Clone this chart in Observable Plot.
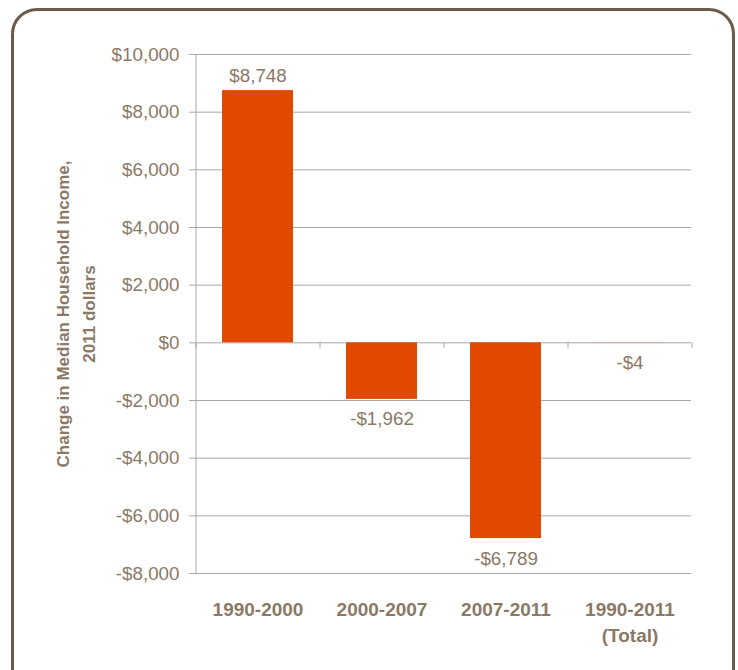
<!DOCTYPE html>
<html>
<head>
<meta charset="utf-8">
<script src="https://cdn.jsdelivr.net/npm/d3@7"></script>
<script src="https://cdn.jsdelivr.net/npm/@observablehq/plot@0.6"></script>
<style>
  html, body { margin: 0; padding: 0; background: #fff; }
  #wrap { position: relative; width: 738px; height: 670px; overflow: hidden; }
  #border { position: absolute; left: 11px; top: 8px; width: 718px; height: 700px;
            border: 3.5px solid #6b5b4b; border-radius: 26px; box-sizing: content-box; }
  #chart { position: absolute; left: 0; top: 0; }
</style>
</head>
<body>
<div id="wrap"><div id="border"></div><div id="chart"></div></div>
<script>
const periods = ["1990-2000", "2000-2007", "2007-2011", "1990-2011\n(Total)"];
const changes = [8748, -1962, -6789, -4];
const yTicks = [-8000, -6000, -4000, -2000, 0, 2000, 4000, 6000, 8000, 10000];
const yTitle = "Change in Median Household Income,\n2011 dollars";

const data = periods.map((p, i) => ({period: p, value: changes[i]}));
const money = v => (v < 0 ? "-" : "") + "$" + d3.format(",")(Math.abs(v));

const textColor = "#8b7966";
const gridColor = "#a8a8a8";
const barColor = "#e24800";
const font = "'Liberation Sans', Arial, sans-serif";

const chart = Plot.plot({
  width: 738,
  height: 670,
  marginLeft: 195,
  marginRight: 47,
  marginTop: 54,
  marginBottom: 97,
  style: {fontFamily: font, fontSize: "18.8px", background: "transparent"},
  x: {domain: periods, paddingInner: 0.43, paddingOuter: 0.215, label: null},
  y: {domain: [-8000, 10000], label: null},
  marks: [
    Plot.ruleY(yTicks, {stroke: gridColor, strokeWidth: 1}),
    Plot.barY(data, {x: "period", y: "value", fill: barColor}),
    // y axis line and category boundary ticks
    Plot.ruleX([periods[0]], {dx: -62, y1: -8000, y2: 10000, stroke: gridColor}),
    Plot.ruleX(periods, {x: d => d, dx: -62, y1: 0, y2: -190, stroke: gridColor}),
    Plot.ruleX([periods[periods.length - 1]], {dx: 62, y1: 0, y2: -190, stroke: gridColor}),
    Plot.axisY({ticks: yTicks, tickSize: 6, tickFormat: () => "", stroke: gridColor}),
    Plot.axisY({ticks: yTicks, tickSize: 0, tickPadding: 16, tickFormat: money,
                fill: textColor, fontSize: 18.8}),
    Plot.axisX({tickSize: 0, tickPadding: 24, fill: textColor, fontWeight: "bold",
                fontSize: 19, lineHeight: 1.37}),
    Plot.text(data.filter(d => d.value > 0), {x: "period", y: "value", text: d => money(d.value),
              dy: -15, fill: textColor, fontSize: 18.8}),
    Plot.text(data.filter(d => d.value <= 0), {x: "period", y: "value", text: d => money(d.value),
              dy: 20, fill: textColor, fontSize: 18.8}),
    Plot.text([yTitle], {frameAnchor: "left", textAnchor: "middle", dx: -122, rotate: -90,
              fill: textColor, fontWeight: "bold", fontSize: 17, lineHeight: 1.55})
  ]
});
document.getElementById("chart").appendChild(chart);
</script>
</body>
</html>
